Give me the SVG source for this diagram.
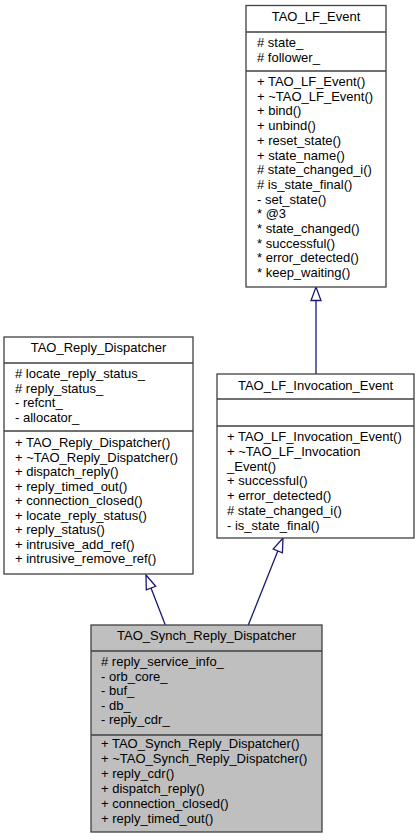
<svg xmlns="http://www.w3.org/2000/svg" width="420" height="840" viewBox="0 0 420 840">
<style>
.box{fill:#ffffff;stroke:#404040;stroke-width:1.3}
.grey{fill:#bfbfbf}
.sep{stroke:#404040;stroke-width:1.3}
text{font-family:"Liberation Sans",Arial,sans-serif;font-size:13px;fill:#000}
.t{text-anchor:middle}
.edge{stroke:#191970;stroke-width:1.3;fill:none}
.head{stroke:#191970;stroke-width:1.3;fill:#ffffff}
</style>
<rect width="420" height="840" fill="#ffffff"/>
<g id="connectors">
<line class="edge" x1="316" y1="300.5" x2="316" y2="374"/>
<polygon class="head" points="316,287 321,300.5 311,300.5"/>
<line class="edge" x1="165.3" y1="625" x2="151" y2="588"/>
<polygon class="head" points="146,575 155.7,586.3 146.3,589.9"/>
<line class="edge" x1="248.3" y1="625" x2="277.8" y2="551"/>
<polygon class="head" points="283,538 282.4,552.9 273.2,549.1"/>
</g>
<g id="TAO_LF_Event">
<rect class="box" x="246" y="5.5" width="140" height="281.5"/>
<line class="sep" x1="246" y1="32" x2="386" y2="32"/>
<line class="sep" x1="246" y1="71" x2="386" y2="71"/>
<text class="t" x="316" y="21">TAO_LF_Event</text>
<text x="257" y="47"># state_</text>
<text x="257" y="61.7"># follower_</text>
<text x="257" y="86">+ TAO_LF_Event()</text>
<text x="257" y="100.7">+ ~TAO_LF_Event()</text>
<text x="257" y="115.4">+ bind()</text>
<text x="257" y="130.1">+ unbind()</text>
<text x="257" y="144.8">+ reset_state()</text>
<text x="257" y="159.5">+ state_name()</text>
<text x="257" y="174.2"># state_changed_i()</text>
<text x="257" y="188.9"># is_state_final()</text>
<text x="257" y="203.6">- set_state()</text>
<text x="257" y="218.3">* @3</text>
<text x="257" y="233">* state_changed()</text>
<text x="257" y="247.7">* successful()</text>
<text x="257" y="262.4">* error_detected()</text>
<text x="257" y="277.1">* keep_waiting()</text>
</g>
<g id="TAO_Reply_Dispatcher">
<rect class="box" x="4" y="337" width="189" height="237"/>
<line class="sep" x1="4" y1="363" x2="193" y2="363"/>
<line class="sep" x1="4" y1="431" x2="193" y2="431"/>
<text class="t" x="98.5" y="352">TAO_Reply_Dispatcher</text>
<text x="15" y="378"># locate_reply_status_</text>
<text x="15" y="392.7"># reply_status_</text>
<text x="15" y="407.4">- refcnt_</text>
<text x="15" y="422.1">- allocator_</text>
<text x="15" y="447">+ TAO_Reply_Dispatcher()</text>
<text x="15" y="461.5">+ ~TAO_Reply_Dispatcher()</text>
<text x="15" y="476">+ dispatch_reply()</text>
<text x="15" y="490.5">+ reply_timed_out()</text>
<text x="15" y="505">+ connection_closed()</text>
<text x="15" y="519.5">+ locate_reply_status()</text>
<text x="15" y="534">+ reply_status()</text>
<text x="15" y="548.5">+ intrusive_add_ref()</text>
<text x="15" y="563">+ intrusive_remove_ref()</text>
</g>
<g id="TAO_LF_Invocation_Event">
<rect class="box" x="217" y="374" width="197" height="164"/>
<line class="sep" x1="217" y1="399" x2="414" y2="399"/>
<line class="sep" x1="217" y1="426" x2="414" y2="426"/>
<text class="t" x="315.5" y="390">TAO_LF_Invocation_Event</text>
<text x="227" y="441">+ TAO_LF_Invocation_Event()</text>
<text x="227" y="455.8">+ ~TAO_LF_Invocation</text>
<text x="227" y="470.6">_Event()</text>
<text x="227" y="485.4">+ successful()</text>
<text x="227" y="500.2">+ error_detected()</text>
<text x="227" y="515"># state_changed_i()</text>
<text x="227" y="529.8">- is_state_final()</text>
</g>
<g id="TAO_Synch_Reply_Dispatcher">
<rect class="box grey" x="91" y="625" width="231" height="207"/>
<line class="sep" x1="91" y1="651" x2="322" y2="651"/>
<line class="sep" x1="91" y1="735" x2="322" y2="735"/>
<text class="t" x="206.5" y="640">TAO_Synch_Reply_Dispatcher</text>
<text x="101" y="666"># reply_service_info_</text>
<text x="101" y="680.5">- orb_core_</text>
<text x="101" y="695">- buf_</text>
<text x="101" y="709.5">- db_</text>
<text x="101" y="724">- reply_cdr_</text>
<text x="101" y="748">+ TAO_Synch_Reply_Dispatcher()</text>
<text x="101" y="763">+ ~TAO_Synch_Reply_Dispatcher()</text>
<text x="101" y="778">+ reply_cdr()</text>
<text x="101" y="793">+ dispatch_reply()</text>
<text x="101" y="808">+ connection_closed()</text>
<text x="101" y="823">+ reply_timed_out()</text>
</g>
</svg>
